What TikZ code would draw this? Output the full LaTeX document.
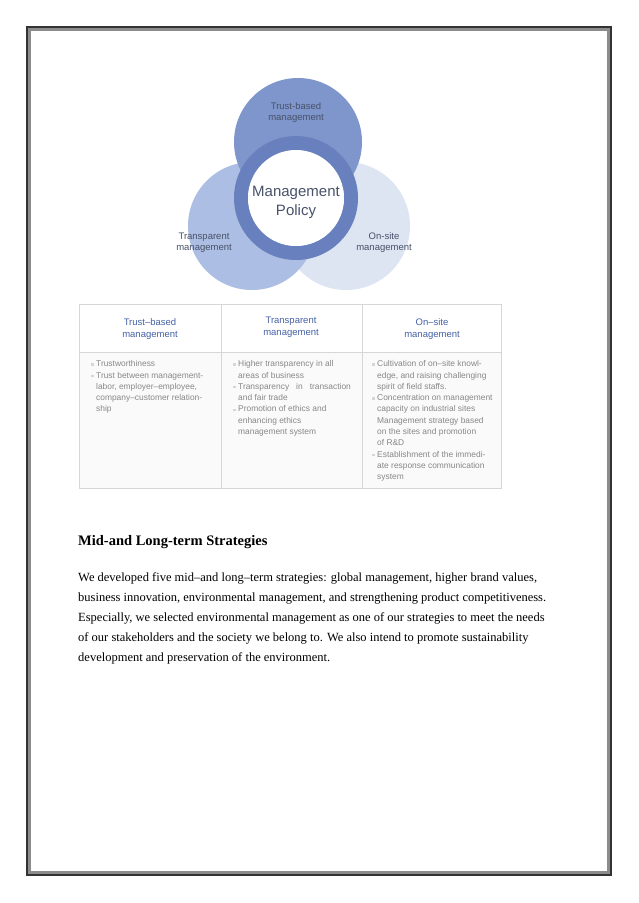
\documentclass[tikz,border=0pt]{standalone}
\usepackage{fontspec}
\setmainfont{Liberation Serif}
\newfontfamily\diafont{Liberation Sans}
\usepackage{xcolor}
\usetikzlibrary{positioning}
\definecolor{topblue}{RGB}{127,150,204}
\definecolor{leftblue}{RGB}{172,190,227}
\definecolor{rightblue}{RGB}{221,229,242}
\definecolor{ringblue}{RGB}{104,128,190}
\definecolor{labelgray}{RGB}{72,82,105}
\definecolor{headblue}{RGB}{70,98,165}
\definecolor{cellgray}{RGB}{135,135,135}
\definecolor{tableline}{RGB}{214,214,214}
\definecolor{cellfill}{RGB}{250,250,250}
\newcommand\sqbul{\makebox[5pt][l]{\textcolor{tableline}{\rule[1pt]{2.4pt}{2.4pt}}}}

\begin{document}
\begin{tikzpicture}[x=1pt, y=-1pt,
  circlab/.style={font=\diafont\fontsize{9.5}{11}\selectfont, text=labelgray, align=center},
  colhead/.style={font=\diafont\fontsize{9.5}{12.5}\selectfont, text=headblue, align=center},
  cell/.style={font=\diafont\fontsize{8.4}{11.3}\selectfont, text=cellgray, align=left,
               anchor=north west, inner sep=0pt},
  tline/.style={draw=tableline, line width=0.8pt}
]
\useasboundingbox (0,0) rectangle (638,903);
\fill[white] (0,0) rectangle (638,903);
% page frame
\draw[black!45, line width=3pt] (29.5,29.5) rectangle (608.5,872.5);
\draw[black!80, line width=2.2pt] (27,27) rectangle (611,875);

% circles
\fill[rightblue] (346,226) circle (64);
\fill[leftblue]  (252,226) circle (64);
\fill[topblue]   (298,142) circle (64);
\fill[ringblue, even odd rule] (296,198) circle (62) (296,198) circle (48);
\fill[white] (296,198) circle (48);

\node[circlab] (trust) at (296,113) {Trust-based\\management};
\node[circlab] (transp) at (204,243) {Transparent\\management};
\node[circlab] (onsite) at (384,243) {On-site\\management};
\node[font=\diafont\fontsize{15}{19}\selectfont, text=labelgray, align=center] (policy) at (296,202) {Management\\Policy};

% table
\fill[cellfill] (79,304) rectangle (501,488);
\fill[white] (79,304) rectangle (501,352);
\draw[tline] (79,304) rectangle (501,488);
\draw[tline] (79,352) -- (501,352);
\draw[tline] (221,304) -- (221,488);
\draw[tline] (362,304) -- (362,488);

\node[colhead] (h1) at (150,329) {Trust–based\\management};
\node[colhead] (h2) at (291,327) {Transparent\\management};
\node[colhead] (h3) at (432,329) {On–site\\management};

\node[cell] (c1) at (91,360.5) {\sqbul Trustworthiness\\
  \sqbul Trust between management-\\
  \hspace*{5pt}labor, employer–employee,\\
  \hspace*{5pt}company–customer relation-\\
  \hspace*{5pt}ship};
\node[cell] (c2) at (233,360.5) {\sqbul Higher transparency in all\\
  \hspace*{5pt}areas of business\\
  \sqbul Transparency \ \ in \ \ transaction\\
  \hspace*{5pt}and fair trade\\
  \sqbul Promotion of ethics and\\
  \hspace*{5pt}enhancing ethics\\
  \hspace*{5pt}management system};
\node[cell] (c3) at (372,360.5) {\sqbul Cultivation of on–site knowl-\\
  \hspace*{5pt}edge, and raising challenging\\
  \hspace*{5pt}spirit of field staffs.\\
  \sqbul Concentration on management\\
  \hspace*{5pt}capacity on industrial sites\\
  \hspace*{5pt}Management strategy based\\
  \hspace*{5pt}on the sites and promotion\\
  \hspace*{5pt}of R\&D\\
  \sqbul Establishment of the immedi-\\
  \hspace*{5pt}ate response communication\\
  \hspace*{5pt}system};

% text below
\node[anchor=base west, inner sep=0pt, font=\bfseries\fontsize{14.5}{17}\selectfont] (title) at (78,545) {Mid-and Long-term Strategies};
\node[anchor=north west, inner sep=0pt, align=left, font=\fontsize{12.5}{20}\selectfont] (body) at (78,572.5)
  {We developed five mid–and long–term strategies: global management, higher brand values,\\
   business innovation, environmental management, and strengthening product competitiveness.\\
   Especially, we selected environmental management as one of our strategies to meet the needs\\
   of our stakeholders and the society we belong to. We also intend to promote sustainability\\
   development and preservation of the environment.};
\end{tikzpicture}
\end{document}
